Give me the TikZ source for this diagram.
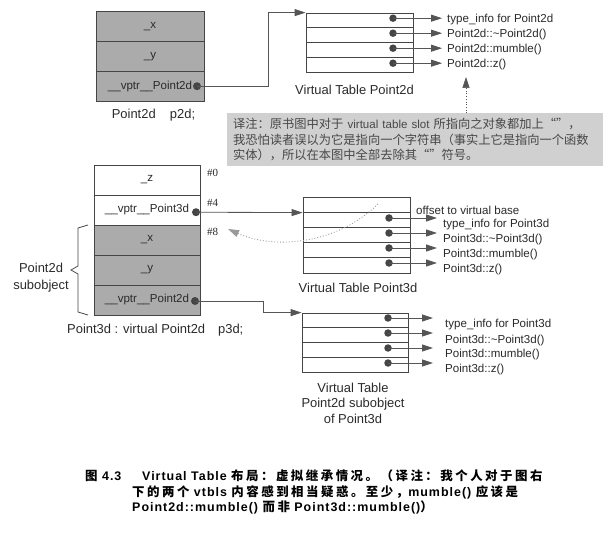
\documentclass[tikz,border=0pt]{standalone}
\usepackage{fontspec}
\setmainfont{Liberation Sans}
\newfontfamily\cjk{Noto Sans CJK SC}
\newfontfamily\cjkcap[LetterSpace=20]{Noto Sans CJK SC}
\newfontfamily\capfont[LetterSpace=8]{Liberation Sans}
\newfontfamily\hashfont{Liberation Serif}
\usetikzlibrary{arrows.meta}
\definecolor{cellgray}{HTML}{ABABAB}
\definecolor{notegray}{HTML}{D0D0D0}
\definecolor{linec}{HTML}{454545}
\definecolor{textc}{HTML}{2A2A2A}
\definecolor{arrc}{HTML}{555555}
\tikzset{
  cell/.style={draw=linec, line width=0.95pt, minimum width=108bp, minimum height=29.67bp, inner sep=0pt, font=\fontsize{11.6}{12}\selectfont, text=textc},
  gcell/.style={cell, fill=cellgray},
  wcell/.style={cell, fill=white},
  vrow/.style={draw=linec, line width=0.85pt, minimum width=107bp, minimum height=14.75bp, inner sep=0pt},
  objdot/.style={circle, fill=linec, inner sep=0pt, minimum size=8bp},
  vdot/.style={circle, fill=linec, inner sep=0pt, minimum size=7.5bp},
  lbl/.style={anchor=west, inner sep=0pt, font=\fontsize{11.6}{12}\selectfont, text=textc},
  captxt/.style={inner sep=0pt, font=\fontsize{13}{15.5}\selectfont, text=textc},
  conn/.style={draw=arrc, line width=0.85pt, -{Triangle[length=11bp,width=7bp]}},
  dotconn/.style={draw=arrc, dotted, line width=0.9pt, -{Triangle[length=11bp,width=7bp]}},
  hashlbl/.style={anchor=west, inner sep=0pt, font=\hashfont\fontsize{11}{11}\selectfont, text=textc},
  capline/.style={anchor=west, inner sep=0pt, font=\fontsize{12.5}{14}\selectfont\capfont\bfseries, text=black}
}
\begin{document}
\begin{tikzpicture}[x=1bp,y=-1bp]
\useasboundingbox (0,0) rectangle (603,535);
\fill[white] (0,0) rectangle (603,535);

% ---- Point2d object ----
\node[gcell] (p2x) at (150,26.8) {\_x};
\node[gcell] (p2y) at (150,56.5) {\_y};
\node[gcell] (p2v) at (150,86.2) {\_\_vptr\_\_Point2d};
\node[objdot] (p2dot) at (197,86.2) {};
\node[captxt] (p2cap) at (153.5,115) {Point2d\hspace{1.1em}p2d;};

% ---- Virtual Table Point2d ----
\node[vrow] (vA1) at (359.5,20.4) {};
\node[vrow] (vA2) at (359.5,35.1) {};
\node[vrow] (vA3) at (359.5,49.9) {};
\node[vrow] (vA4) at (359.5,64.6) {};
\node[vdot] (dA1) at (393,18.2) {};
\node[vdot] (dA2) at (393,33.2) {};
\node[vdot] (dA3) at (393,48.2) {};
\node[vdot] (dA4) at (393,63.2) {};
\node[lbl] (lA1) at (447,20) {type\_info for Point2d};
\node[lbl] (lA2) at (447,35) {Point2d::\textasciitilde Point2d()};
\node[lbl] (lA3) at (447,50) {Point2d::mumble()};
\node[lbl] (lA4) at (447,64.5) {Point2d::z()};
\foreach \i in {1,2,3,4}{\draw[conn, shorten >=5bp] (dA\i.center) -- (dA\i.center -| lA\i.west);}
\node[captxt] (vAcap) at (354.5,90) {Virtual Table Point2d};

\coordinate (bendA) at (268,0);
\draw[conn] (p2dot.center) -- (p2dot.center -| bendA) |- (vA1.north west);

% ---- note ----
\node[anchor=north west, fill=notegray, inner xsep=6bp, inner ysep=4.5bp, text width=364bp, align=left,
      font=\fontsize{12.3}{16}\selectfont, text=black!72] (note) at (227,113)
 {{\cjk 译注：原书图中对于}\ {\fontsize{11.6}{16}\selectfont virtual table slot}\ {\cjk 所指向之对象都加上“”，}\\
  {\cjk 我恐怕读者误以为它是指向一个字符串（事实上它是指向一个函数}\\
  {\cjk 实体），所以在本图中全部去除其“”符号。}};
\coordinate (zA) at (466,77);
\draw[dotconn, line width=0.7pt] (note.north -| zA) -- (zA);

% ---- Point3d object ----
\node[wcell, minimum width=106bp, minimum height=30bp] (p3z) at (147,180) {\_z};
\node[wcell, minimum width=106bp, minimum height=30bp] (p3v) at (147,210) {\_\_vptr\_\_Point3d};
\node[gcell, minimum width=106bp, minimum height=30bp] (p3x) at (147,240) {\_x};
\node[gcell, minimum width=106bp, minimum height=30bp] (p3y) at (147,270) {\_y};
\node[gcell, minimum width=106bp, minimum height=30bp] (p3v2) at (147,300) {\_\_vptr\_\_Point2d};
\node[objdot] (p3dot) at (196,212.2) {};
\node[objdot] (p3dot2) at (195,301) {};
\node[hashlbl] (h0) at (207,173) {\#0};
\node[hashlbl] (h4) at (207,203) {\#4};
\node[hashlbl] (h8) at (207,232) {\#8};
\node[captxt, anchor=west] (p3cap) at (67,330) {Point3d : virtual Point2d\hspace{1em}p3d;};

% brace
\draw[linec, line width=0.8pt] (88,225) -- (78,228) -- (78,266) -- (71,270) -- (78,274) -- (78,312) -- (88,315);
\node[captxt, align=center, font=\fontsize{13}{17}\selectfont] (subcap) at (41,277.5) {Point2d\\subobject};

% ---- Virtual Table Point3d ----
\node[vrow, minimum height=15.2bp] (vB1) at (356.5,204.6) {};
\node[vrow, minimum height=15.2bp] (vB2) at (356.5,219.8) {};
\node[vrow, minimum height=15.2bp] (vB3) at (356.5,235) {};
\node[vrow, minimum height=15.2bp] (vB4) at (356.5,250.2) {};
\node[vrow, minimum height=15.2bp] (vB5) at (356.5,265.4) {};
\node[vdot] (dB2) at (389,218) {};
\node[vdot] (dB3) at (389,233) {};
\node[vdot] (dB4) at (389,248) {};
\node[vdot] (dB5) at (389,263) {};
\node[lbl] (lB1) at (416,210) {offset to virtual base};
\node[lbl] (lB2) at (443,225) {type\_info for Point3d};
\node[lbl] (lB3) at (443,240) {Point3d::\textasciitilde Point3d()};
\node[lbl] (lB4) at (443,254.5) {Point3d::mumble()};
\node[lbl] (lB5) at (443,270) {Point3d::z()};
\foreach \i in {2,3,4,5}{\draw[conn] (dB\i.center) -- ([xshift=48bp]dB\i.center);}
\node[captxt] (vBcap) at (358,288) {Virtual Table Point3d};
\draw[conn] (p3dot.center) -- (vB1.south west);

\coordinate (cs) at (378,204);
\coordinate (ce) at (228,229);
\draw[dotconn, draw=gray!80] (cs) .. controls (335,246) and (272,249) .. (ce);

% ---- Virtual Table Point2d subobject of Point3d ----
\node[vrow, minimum width=106bp] (vC1) at (355,320.4) {};
\node[vrow, minimum width=106bp] (vC2) at (355,335.1) {};
\node[vrow, minimum width=106bp] (vC3) at (355,349.9) {};
\node[vrow, minimum width=106bp] (vC4) at (355,364.6) {};
\node[vdot] (dC1) at (388,318) {};
\node[vdot] (dC2) at (388,333) {};
\node[vdot] (dC3) at (388,348) {};
\node[vdot] (dC4) at (388,363) {};
\node[lbl] (lC1) at (445,325) {type\_info for Point3d};
\node[lbl] (lC2) at (445,340.5) {Point3d::\textasciitilde Point3d()};
\node[lbl] (lC3) at (445,355) {Point3d::mumble()};
\node[lbl] (lC4) at (445,370) {Point3d::z()};
\foreach \i in {1,2,3,4}{\draw[conn] (dC\i.center) -- ([xshift=45bp]dC\i.center);}
\node[captxt, align=center] (vCcap) at (353,403) {Virtual Table\\Point2d subobject\\of Point3d};

\coordinate (bendC) at (263,0);
\draw[conn] (p3dot2.center) -- (p3dot2.center -| bendC) |- (vC1.north west);

% ---- caption ----
\node[capline] (cap0) at (85,476) {{\cjkcap\fontsize{12.5}{14}\selectfont 图}\ 4.3};
\node[capline] (cap1) at (142,476) {Virtual Table {\cjkcap\fontsize{12.5}{14}\selectfont 布局：虚拟继承情况。（译注：我个人对于图右}};
\node[capline] (cap2) at (132,492) {{\cjkcap\fontsize{12.5}{14}\selectfont 下的两个} vtbls {\cjkcap\fontsize{12.5}{14}\selectfont 内容感到相当疑惑。至少，}mumble() {\cjkcap\fontsize{12.5}{14}\selectfont 应该是}};
\node[capline] (cap3) at (132,507) {Point2d::mumble() {\cjkcap\fontsize{12.5}{14}\selectfont 而非} Point3d::mumble(){\cjkcap\fontsize{12.5}{14}\selectfont ）}};
\end{tikzpicture}
\end{document}
